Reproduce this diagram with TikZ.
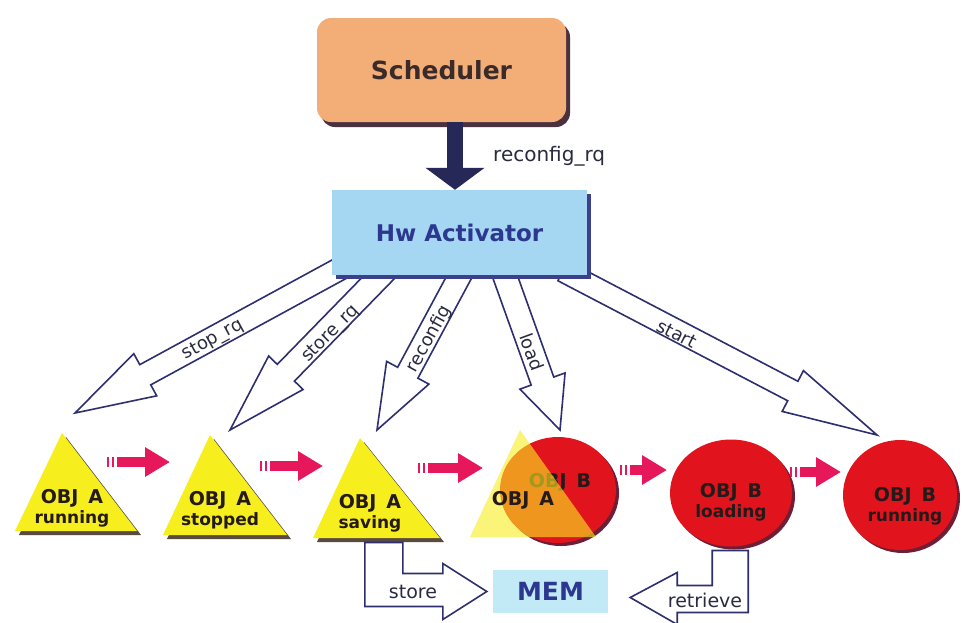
\documentclass[tikz,border=0pt]{standalone}
\usepackage{fontspec}
\setmainfont{DejaVu Sans}
\usetikzlibrary{calc,arrows.meta,shapes.geometric,shadows}

\definecolor{schedfill}{HTML}{F3AE78}
\definecolor{schedshadow}{HTML}{4A3140}
\definecolor{schedtext}{HTML}{3B2A2A}
\definecolor{hwfill}{HTML}{A5D7F2}
\definecolor{hwshadow}{HTML}{3B3F8C}
\definecolor{hwtext}{HTML}{2C3790}
\definecolor{arrowline}{HTML}{2E2F6E}
\definecolor{darkarrow}{HTML}{262858}
\definecolor{labeltext}{HTML}{2A2A40}
\definecolor{trifill}{HTML}{F7EE1E}
\definecolor{trishadow}{HTML}{5A4A40}
\definecolor{redfill}{HTML}{E1131D}
\definecolor{redshadow}{HTML}{6E1E35}
\definecolor{redarrowcol}{HTML}{E6175A}
\definecolor{objtextcol}{HTML}{241A1A}
\definecolor{memfill}{HTML}{C2EAF6}

% hollow block arrow: start, tip, half shaft width, half head width, head length
\newcommand{\hollowarrow}[5]{%
  \coordinate (neck) at ($(#2)!#5!(#1)$);
  \draw[blockarrow] ($(#1)!#3!90:(#2)$) -- ($(neck)!#3!90:(#2)$)
    -- ($(neck)!#4!90:(#2)$) -- (#2) -- ($(neck)!#4!-90:(#2)$)
    -- ($(neck)!#3!-90:(#2)$) -- ($(#1)!#3!-90:(#2)$) -- cycle;
}
% two-line state caption: object name, state
\newcommand{\objcap}[2]{{\fontsize{19}{20}\selectfont #1}\\{\fontsize{17}{20}\selectfont #2}}

\begin{document}
\begin{tikzpicture}[x=1pt,y=-1pt,
  blockarrow/.style={draw=arrowline, line width=1.6pt, fill=white, line join=miter},
  arrowlabel/.style={font=\fontsize{18}{18}\selectfont, text=labeltext, inner sep=0pt},
  redarrow/.style={draw=redarrowcol, line width=10pt,
    dash pattern=on 2pt off 3pt on 2pt off 3pt on 400pt,
    -{Triangle[length=25pt,width=28pt]}},
  objtext/.style={align=center, text=objtextcol, inner sep=0pt,
    font=\bfseries\fontsize{19}{20}\selectfont},
  redobj/.style={ellipse, fill=redfill, draw=none, inner sep=0pt,
    drop shadow={shadow xshift=3pt, shadow yshift=-3pt, fill=redshadow, opacity=1}},
  tri/.style={fill=trifill},
  trishade/.style={fill=trishadow}]

\fill[white] (0,0) rectangle (964,622);
\useasboundingbox (0,0) rectangle (964,622);

% requests from the activator to the objects
\coordinate (stopS) at (345,266);   \coordinate (stopT) at (75,413);
\coordinate (storeS) at (388,268);  \coordinate (storeT) at (230,430);
\coordinate (recS) at (464,268);    \coordinate (recT) at (377,430);
\coordinate (loadS) at (502,268);   \coordinate (loadT) at (560,430);
\coordinate (startS) at (563,271);  \coordinate (startT) at (877,435);

\hollowarrow{stopS}{stopT}{11.5pt}{24pt}{80pt}
\hollowarrow{storeS}{storeT}{12pt}{24pt}{80pt}
\hollowarrow{recS}{recT}{11.5pt}{24pt}{65pt}
\hollowarrow{loadS}{loadT}{12pt}{24pt}{52pt}
\hollowarrow{startS}{startT}{11pt}{23pt}{95pt}

\node[arrowlabel, rotate=28.5] (lstop) at (213,340) {stop\_rq};
\node[arrowlabel, rotate=45] (lstore) at (331,334) {store\_rq};
\node[arrowlabel, rotate=61] (lrec) at (429,339) {reconfig};
\node[arrowlabel, rotate=-70] (lload) at (532,352) {load};
\node[arrowlabel, rotate=-27] (lstart) at (677,334) {start};

% scheduler and activator
\node[fill=schedfill, rounded corners=14pt, minimum width=249pt, minimum height=104pt,
  text=schedtext, font=\bfseries\fontsize{25}{25}\selectfont,
  drop shadow={shadow xshift=4pt, shadow yshift=-5pt, fill=schedshadow, opacity=1}]
  (sched) at (441.5,70) {Scheduler};

\node[fill=hwfill, minimum width=255pt, minimum height=85pt,
  text=hwtext, font=\bfseries\fontsize{23}{23}\selectfont,
  drop shadow={shadow xshift=4pt, shadow yshift=-4pt, fill=hwshadow, opacity=1}]
  (hw) at (459.5,232.5) {Hw Activator};

\coordinate (arrx) at (455,0);
\draw[darkarrow, line width=16pt, -{Triangle[length=22pt,width=58pt]}]
  (sched.south -| arrx) -- (hw.north -| arrx);
\node[anchor=west, inner sep=0pt, text=labeltext, font=\fontsize{20}{20}\selectfont]
  (lrq) at (493,156) {reconfig\_rq};

% object A states
\fill[trishade] (19,535) -- (66,437) -- (141,535) -- cycle;
\fill[tri] (15,531) -- (62,433) -- (137,531) -- cycle;
\node[objtext] (sA1) at (72,508) {\objcap{OBJ\hspace{10pt}A}{running}};

\fill[trishade] (167,539) -- (214,439) -- (291,539) -- cycle;
\fill[tri] (163,535) -- (210,435) -- (287,535) -- cycle;
\node[objtext] (sA2) at (220,510) {\objcap{OBJ\hspace{10pt}A}{stopped}};

\fill[trishade] (317,542) -- (364,442) -- (444,542) -- cycle;
\fill[tri] (313,538) -- (360,438) -- (440,538) -- cycle;
\node[objtext] (sA3) at (370,513) {\objcap{OBJ\hspace{10pt}A}{saving}};

% swap: object A fading into object B
\node[redobj, minimum width=116pt, minimum height=106pt] (sAB) at (558,490) {};
\node[objtext] (sABb) at (560,482) {OBJ\hspace{10pt}B};
\fill[tri, opacity=0.6] (470,537) -- (520,430) -- (596,537) -- cycle;
\node[objtext] (sABa) at (523,500) {OBJ\hspace{10pt}A};

% object B states
\node[redobj, minimum width=122pt, minimum height=107pt] (sB1) at (731,493) {};
\node[objtext] (sB1t) at (731,502) {\objcap{OBJ\hspace{10pt}B}{loading}};
\node[redobj, minimum width=114pt, minimum height=110pt] (sB2) at (900,495) {};
\node[objtext] (sB2t) at (905,506) {\objcap{OBJ\hspace{10pt}B}{running}};

% state transitions
\coordinate (ra1) at (107,462); \coordinate (rb1) at (170,462);
\coordinate (ra2) at (260,466); \coordinate (rb2) at (323,466);
\coordinate (ra3) at (418,468); \coordinate (rb3) at (483,468);
\coordinate (ra4) at (620,470); \coordinate (rb4) at (667,470);
\coordinate (ra5) at (790,472); \coordinate (rb5) at (841,472);
\foreach \i in {1,...,5} \draw[redarrow] (ra\i) -- (rb\i);

% memory
\node[fill=memfill, minimum width=115pt, minimum height=43pt, inner sep=0pt,
  text=hwtext, font=\bfseries\fontsize{25}{25}\selectfont] (mem) at (550.5,591.5) {MEM};

\draw[blockarrow] ([shift={(-6,0)}]mem.west) -- ++(-44,-28) -- ++(0,10) -- ++(-40,0)
  -- ++(0,-31) -- ++(-38,0) -- ++(0,64) -- ++(78,0) -- ++(0,13) -- cycle;
\node[arrowlabel, font=\fontsize{19}{19}\selectfont] (lst) at (413,592) {store};

\draw[blockarrow] ([shift={(22,6)}]mem.east) -- ++(47,-25) -- ++(0,13) -- ++(35,0)
  -- ++(0,-35) -- ++(36,0) -- ++(0,62) -- ++(-71,0) -- ++(0,12) -- cycle;
\node[arrowlabel, font=\fontsize{19}{19}\selectfont] (lre) at (705,600) {retrieve};

\end{tikzpicture}
\end{document}
